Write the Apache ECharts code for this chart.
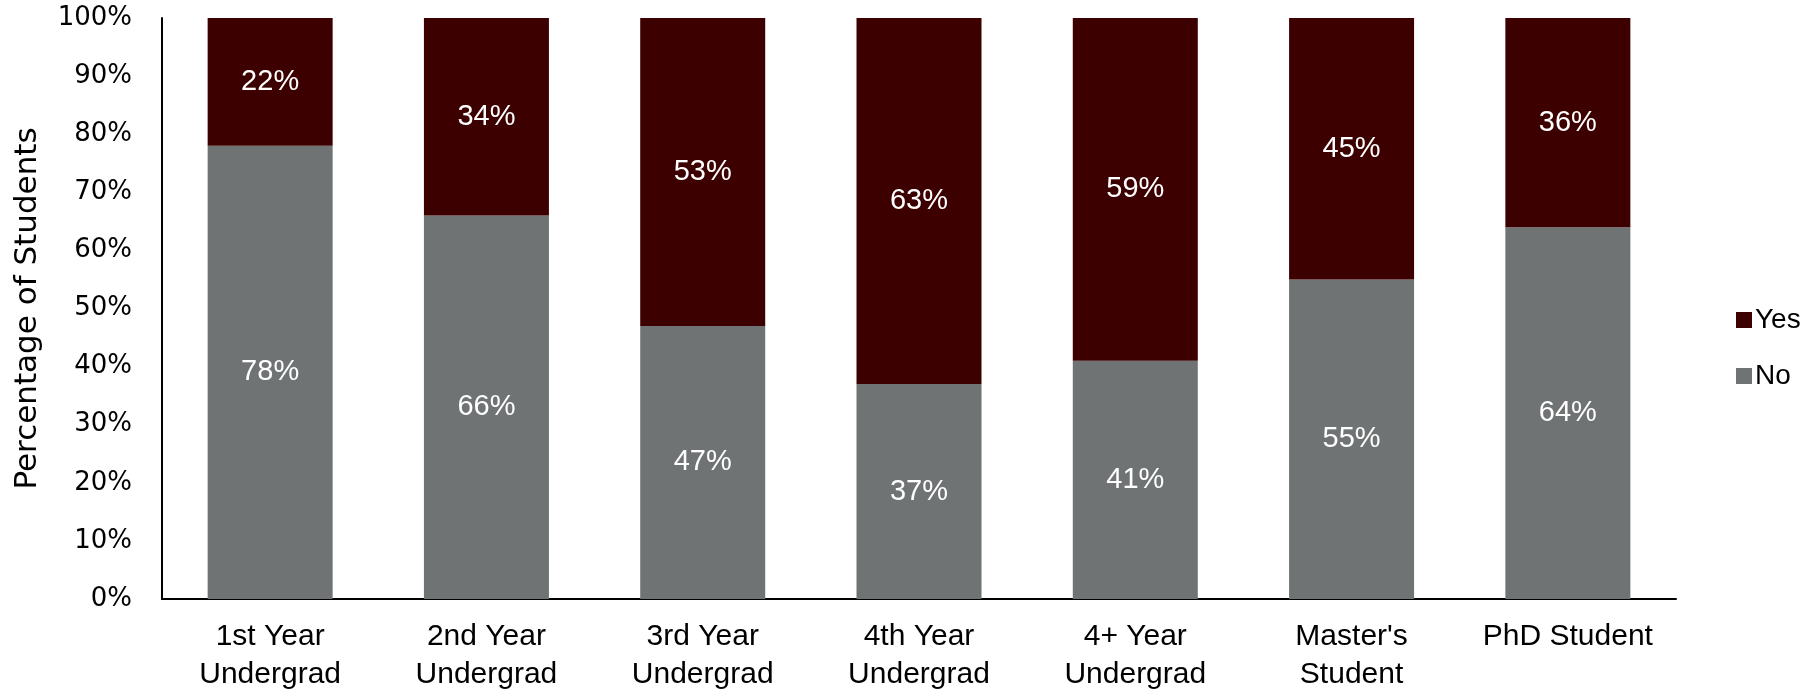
<!DOCTYPE html>
<html>
<head>
<meta charset="utf-8">
<script src="https://cdn.jsdelivr.net/npm/echarts@6/dist/echarts.min.js"></script>
<style>html,body{margin:0;padding:0;background:#fff;}#c{width:1818px;height:693px;}</style>
</head>
<body>
<div id="c"></div>
<script>
const categories = ['1st Year\nUndergrad','2nd Year\nUndergrad','3rd Year\nUndergrad','4th Year\nUndergrad','4+ Year\nUndergrad',"Master's\nStudent",'PhD Student'];
const noValues = [78, 66, 47, 37, 41, 55, 64];
const yesValues = [22, 34, 53, 63, 59, 45, 36];
const yTicks = [0, 10, 20, 30, 40, 50, 60, 70, 80, 90, 100];

const chart = echarts.init(document.getElementById('c'), null, {renderer: 'canvas'});
const labelStyle = {
  show: true, position: 'inside', color: '#ffffff',
  fontFamily: 'Liberation Sans', fontSize: 29,
  formatter: p => p.value + '%'
};
chart.setOption({
  animation: false,
  backgroundColor: '#ffffff',
  grid: {left: 162, right: 142, top: 18, bottom: 94, containLabel: false, outerBoundsMode: 'none'},
  legend: {
    data: ['Yes', 'No'], orient: 'vertical', left: 1731, top: 301,
    itemWidth: 16, itemHeight: 16, itemGap: 28, icon: 'rect',
    textStyle: {fontFamily: 'Liberation Sans', fontSize: 28, lineHeight: 28, color: '#000', padding: [0,0,0,-2]}
  },
  xAxis: {
    type: 'category', data: categories,
    axisLine: {lineStyle: {color: '#000', width: 2}},
    axisTick: {show: false},
    axisLabel: {fontFamily: 'Liberation Sans', fontSize: 30, lineHeight: 38, color: '#000', margin: 19, interval: 0}
  },
  yAxis: {
    type: 'value', min: yTicks[0], max: yTicks[yTicks.length-1], interval: 10,
    name: 'Percentage of Students', nameLocation: 'middle', nameGap: 119,
    nameTextStyle: {fontFamily: 'DejaVu Sans', fontSize: 31, color: '#000'},
    axisLine: {show: true, lineStyle: {color: '#000', width: 2}},
    axisTick: {show: false},
    splitLine: {show: false},
    axisLabel: {fontFamily: 'DejaVu Sans', fontSize: 26, color: '#000', margin: 30, formatter: v => v + '%'}
  },
  series: [
    {name: 'No', type: 'bar', stack: 'all', data: noValues, barWidth: 125,
     itemStyle: {color: '#6f7373'}, label: labelStyle},
    {name: 'Yes', type: 'bar', stack: 'all', data: yesValues, barWidth: 125,
     itemStyle: {color: '#3c0000'}, label: labelStyle}
  ]
});
</script>
</body>
</html>
